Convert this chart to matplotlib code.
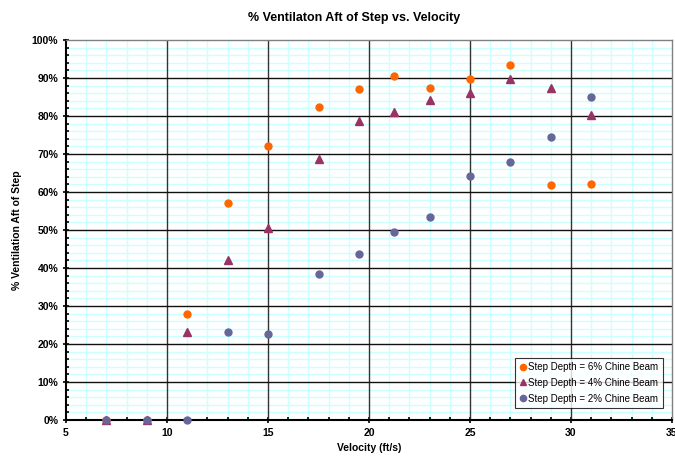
import matplotlib
matplotlib.use("Agg")
import matplotlib.pyplot as plt
from matplotlib.ticker import MultipleLocator, PercentFormatter

plt.rcParams['font.family'] = ['Liberation Sans', 'DejaVu Sans']

x6 = [7, 9, 11, 13, 15, 17.5, 19.5, 21.25, 23, 25, 27, 29, 31]
y6 = [0, 0, 27.9, 57.1, 72.1, 82.3, 87.0, 90.6, 87.3, 89.8, 93.3, 61.8, 62.1]

x4 = [7, 9, 11, 13, 15, 17.5, 19.5, 21.25, 23, 25, 27, 29, 31]
y4 = [0, 0, 23.1, 42.0, 50.6, 68.7, 78.7, 81.0, 84.2, 86.1, 89.7, 87.3, 80.3]

x2 = [7, 9, 11, 13, 15, 17.5, 19.5, 21.25, 23, 25, 27, 29, 31]
y2 = [0, 0, 0, 23.2, 22.6, 38.5, 43.8, 49.4, 53.5, 64.3, 68.0, 74.5, 84.9]

labels = ["Step Depth = 6% Chine Beam", "Step Depth = 4% Chine Beam", "Step Depth = 2% Chine Beam"]

fig = plt.figure(figsize=(6.75, 4.58), dpi=100)
ax = fig.add_axes([66/675, 38/458, 606/675, 380/458])

ax.set_xlim(5, 35)
ax.set_ylim(0, 100)
ax.xaxis.set_major_locator(MultipleLocator(5))
ax.xaxis.set_minor_locator(MultipleLocator(1))
ax.yaxis.set_major_locator(MultipleLocator(10))
ax.yaxis.set_minor_locator(MultipleLocator(2))
ax.yaxis.set_major_formatter(PercentFormatter(decimals=0))

# minor grid (cyan) via axis grid, major grid drawn above it
ax.grid(which='minor', color='#CCFFFF', lw=1.0)
ax.grid(which='major', visible=False)
ax.set_axisbelow(True)
for xv in ax.get_xticks():
    if 5 < xv < 35:
        ax.axvline(xv, color='#333333', lw=1.0, zorder=1)
for yv in ax.get_yticks():
    if 0 < yv < 100:
        ax.axhline(yv, color='#111111', lw=1.0, zorder=1)

ax.plot(x6, y6, 'o', color='#FF6600', ms=5, mec='#FF6600', label=labels[0], zorder=3, clip_on=False)
ax.plot(x4, y4, '^', color='#993366', ms=5.5, mec='#993366', label=labels[1], zorder=4, clip_on=False)
ax.plot(x2, y2, 'o', color='#666699', ms=5, mec='#666699', label=labels[2], zorder=5, clip_on=False)

for s in ['top', 'right']:
    ax.spines[s].set_color('#808080')
    ax.spines[s].set_linewidth(1.0)
for s in ['left', 'bottom']:
    ax.spines[s].set_color('black')
    ax.spines[s].set_linewidth(1.5)

ax.tick_params(which='major', direction='inout', length=5, width=1.2, labelsize=7.5, pad=3)
ax.tick_params(which='minor', direction='in', length=2.5, width=1.2)
for lab in ax.get_xticklabels() + ax.get_yticklabels():
    lab.set_fontweight('bold')

fig.text(354/675, 1 - 18/458, '% Ventilaton Aft of Step vs. Velocity', fontsize=9, fontweight='bold',
         ha='center', va='center')
ax.set_xlabel('Velocity (ft/s)', fontsize=7.5, fontweight='bold', labelpad=4)
ax.set_ylabel('% Ventilation Aft of Step', fontsize=7.5, fontweight='bold', labelpad=7)

leg = ax.legend(loc='lower right', bbox_to_anchor=(663/675, (458-408)/458), bbox_transform=fig.transFigure,
                fontsize=7, frameon=True, fancybox=False, edgecolor='black', handlelength=0.7,
                handletextpad=0.2, borderpad=0.45, borderaxespad=0, labelspacing=0.6, markerscale=0.9)
leg.get_frame().set_linewidth(0.8)
leg.set_zorder(10)

fig.savefig('out.png', dpi=100)
